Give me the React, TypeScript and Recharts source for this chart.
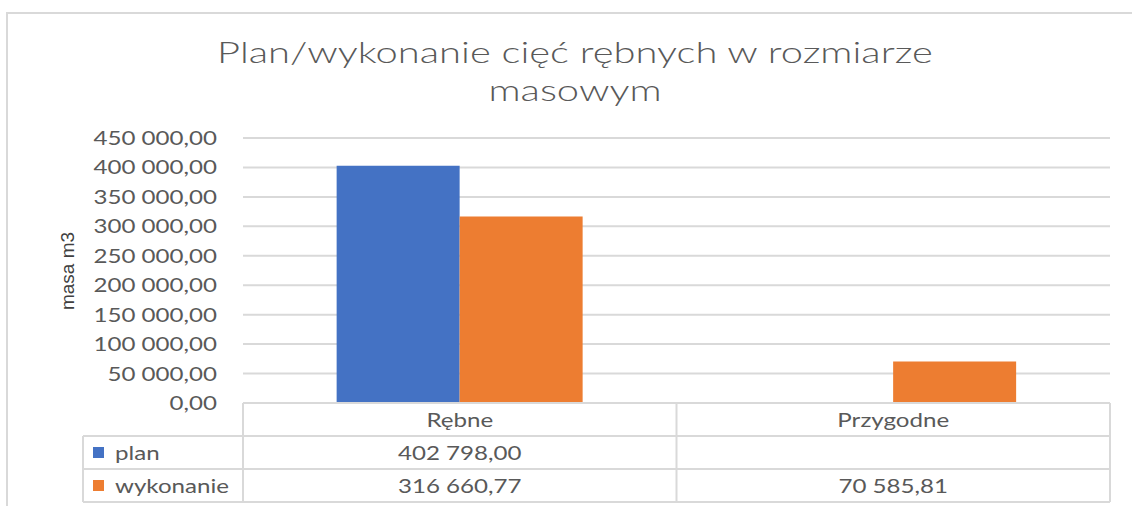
import { BarChart, Bar, XAxis, YAxis, CartesianGrid } from 'recharts';

const categories = ['Rębne', 'Przygodne'];
const planValues: (number | null)[] = [402798.0, null];
const wykonanieValues: (number | null)[] = [316660.77, 70585.81];
const yTicks = [0, 50000, 100000, 150000, 200000, 250000, 300000, 350000, 400000, 450000];
const seriesNames = ['plan', 'wykonanie'];
const seriesColors = ['#4472C4', '#ED7D31'];

const W = 1132;
const H = 506;
const PLOT_LEFT = 243;
const PLOT_RIGHT = 1110;
const PLOT_TOP = 138;
const PLOT_BOTTOM = 403;
const TABLE_LEFT = 83;
const ROW_H = 33;
const TEXT = '#595959';
const LINE = '#d9d9d9';
const FONT = 'Lato, sans-serif';
const SX = 1.27; // the reference looks horizontally stretched

const fmt = (v: number | null) => {
  if (v === null || v === undefined) return '';
  const [i, d] = v.toFixed(2).split('.');
  return i.replace(/\B(?=(\d{3})+(?!\d))/g, ' ') + ',' + d;
};

const data = categories.map((c, i) => ({
  name: c,
  plan: planValues[i],
  wykonanie: wykonanieValues[i],
}));

function SText({ x, y, anchor = 'middle', size = 19, children }: any) {
  return (
    <text
      transform={`translate(${x},${y}) scale(${SX},1)`}
      textAnchor={anchor}
      fill={TEXT}
      fontSize={size}
      fontFamily={FONT}
    >
      {children}
    </text>
  );
}

function YTick(props: any) {
  const { x, y, payload } = props;
  return (
    <SText x={x} y={y + 7} anchor="end">
      {fmt(payload.value)}
    </SText>
  );
}

function DataTable() {
  const colW = (PLOT_RIGHT - PLOT_LEFT) / categories.length;
  const rows = [planValues, wykonanieValues];
  const y0 = PLOT_BOTTOM;
  const bottom = y0 + ROW_H * 3;
  return (
    <svg width={W} height={H} style={{ position: 'absolute', left: 0, top: 0, pointerEvents: 'none' }}>
      <line x1={PLOT_LEFT} x2={PLOT_RIGHT} y1={y0} y2={y0} stroke={LINE} strokeWidth={2} />
      {[1, 2, 3].map((r) => (
        <line key={r} x1={TABLE_LEFT} x2={PLOT_RIGHT} y1={y0 + r * ROW_H} y2={y0 + r * ROW_H} stroke={LINE} strokeWidth={2} />
      ))}
      <line x1={TABLE_LEFT} x2={TABLE_LEFT} y1={y0 + ROW_H} y2={bottom} stroke={LINE} strokeWidth={2} />
      {[0, 1, 2].map((c) => (
        <line key={c} x1={PLOT_LEFT + c * colW} x2={PLOT_LEFT + c * colW} y1={y0} y2={bottom} stroke={LINE} strokeWidth={2} />
      ))}
      {categories.map((c, i) => (
        <SText key={c} x={PLOT_LEFT + colW * (i + 0.5)} y={y0 + ROW_H / 2 + 7}>
          {c}
        </SText>
      ))}
      {rows.map((vals, r) => (
        <g key={r}>
          <rect x={TABLE_LEFT + 10} y={y0 + ROW_H * (r + 1) + 11} width={11} height={11} fill={seriesColors[r]} />
          <SText x={TABLE_LEFT + 32} y={y0 + ROW_H * (r + 1.5) + 7} anchor="start">
            {seriesNames[r]}
          </SText>
          {vals.map((v, i) => (
            <SText key={i} x={PLOT_LEFT + colW * (i + 0.5)} y={y0 + ROW_H * (r + 1.5) + 7}>
              {fmt(v)}
            </SText>
          ))}
        </g>
      ))}
    </svg>
  );
}

export default function App() {
  return (
    <div style={{ position: 'fixed', left: 0, top: 0, width: W, height: H, background: '#fff', overflow: 'hidden' }}>
      <div style={{ position: 'absolute', left: 6, top: 12, width: W, height: H, borderTop: `2px solid ${LINE}`, borderLeft: `2px solid ${LINE}` }} />
      <div
        style={{
          position: 'absolute',
          left: 0,
          width: 1150,
          top: 32,
          textAlign: 'center',
          color: TEXT,
          fontFamily: FONT,
          fontWeight: 300,
          fontSize: 30,
          lineHeight: '38px',
          transform: 'scaleX(1.33)',
          transformOrigin: '575px 0',
        }}
      >
        Plan/wykonanie cięć rębnych w rozmiarze
        <br />
        masowym
      </div>
      <div
        style={{
          position: 'absolute',
          left: 68,
          top: 271,
          transform: 'translate(-50%, -50%) rotate(-90deg)',
          color: '#404040',
          fontFamily: '"Liberation Sans", sans-serif',
          fontSize: 19,
          whiteSpace: 'nowrap',
        }}
      >
        masa m3
      </div>
      <div style={{ position: 'absolute', left: 0, top: 0 }}>
        <BarChart
          width={W}
          height={H}
          data={data}
          margin={{ top: PLOT_TOP, right: W - PLOT_RIGHT, bottom: H - PLOT_BOTTOM, left: 0 }}
          barCategoryGap="21.6%"
          barGap={0}
        >
          <CartesianGrid vertical={false} stroke={LINE} strokeWidth={2} />
          <XAxis dataKey="name" hide />
          <YAxis
            width={PLOT_LEFT}
            domain={[0, 450000]}
            ticks={yTicks}
            axisLine={false}
            tickLine={false}
            tickSize={0}
            tickMargin={26}
            tick={<YTick />}
          />
          <Bar dataKey="plan" fill={seriesColors[0]} isAnimationActive={false} />
          <Bar dataKey="wykonanie" fill={seriesColors[1]} isAnimationActive={false} />
        </BarChart>
      </div>
      <DataTable />
    </div>
  );
}
